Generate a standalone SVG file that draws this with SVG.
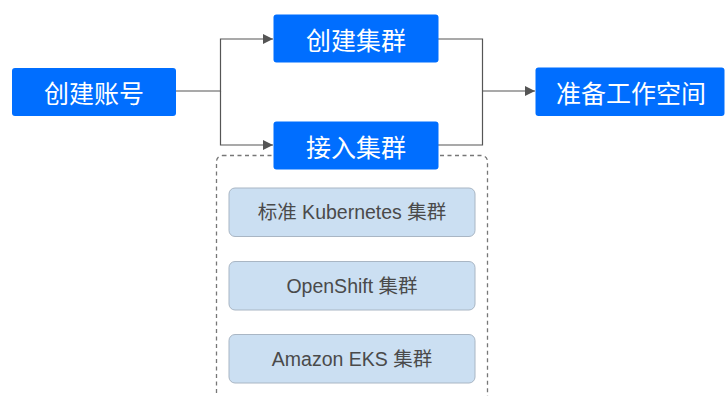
<svg xmlns="http://www.w3.org/2000/svg" width="725" height="396" viewBox="0 0 725 396">
<defs>
<marker id="arr" viewBox="0 0 10 10" refX="10" refY="5" markerWidth="10" markerHeight="10" markerUnits="userSpaceOnUse" orient="auto">
<path d="M0,0 L10,5 L0,10 z" fill="#555"/>
</marker>
</defs>
<style>
.blue{fill:#006eff;}
.wt{fill:#fff;font-family:"Noto Sans CJK SC","Noto Sans",sans-serif;font-size:25px;text-anchor:middle;dominant-baseline:central;}
.light{fill:#cbdff2;stroke:#a9b6c4;stroke-width:1;}
.gt{fill:#4a4a4a;font-family:"Liberation Sans","Noto Sans CJK SC",sans-serif;font-size:19.5px;text-anchor:middle;dominant-baseline:central;}
.conn{fill:none;stroke:#555;stroke-width:1.2;}
</style>
<g id="connectors">
<path class="conn" d="M176,91 H220.5 V39 H273" marker-end="url(#arr)"/>
<path class="conn" d="M220.5,91 V145 H273" marker-end="url(#arr)"/>
<path class="conn" d="M438,39 H482.5 V145 H438"/>
<path class="conn" d="M482.5,91 H535" marker-end="url(#arr)"/>
</g>
<g id="group-box">
<rect x="216.5" y="155.5" width="271" height="260" rx="6" fill="none" stroke="#777" stroke-width="1.3" stroke-dasharray="4,3.5"/>
</g>
<g id="node-create-account">
<rect class="blue" x="12" y="68" width="164" height="48" rx="3"/>
<text class="wt" x="94" y="92">创建账号</text>
</g>
<g id="node-create-cluster">
<rect class="blue" x="273.5" y="14.5" width="165" height="48" rx="3"/>
<text class="wt" x="356" y="38.5">创建集群</text>
</g>
<g id="node-import-cluster">
<rect class="blue" x="273.5" y="121.5" width="165" height="48" rx="3"/>
<text class="wt" x="356" y="145.5">接入集群</text>
</g>
<g id="node-workspace">
<rect class="blue" x="535.5" y="67.5" width="189" height="48.5" rx="3"/>
<text class="wt" x="631" y="92">准备工作空间</text>
</g>
<g id="node-k8s">
<rect class="light" x="229" y="188" width="246" height="48.5" rx="6"/>
<text class="gt" x="352" y="212">标准 Kubernetes 集群</text>
</g>
<g id="node-openshift">
<rect class="light" x="229" y="261.5" width="246" height="48.5" rx="6"/>
<text class="gt" x="352" y="286">OpenShift 集群</text>
</g>
<g id="node-eks">
<rect class="light" x="229" y="334.5" width="246" height="48.5" rx="6"/>
<text class="gt" x="352" y="359">Amazon EKS 集群</text>
</g>
</svg>
